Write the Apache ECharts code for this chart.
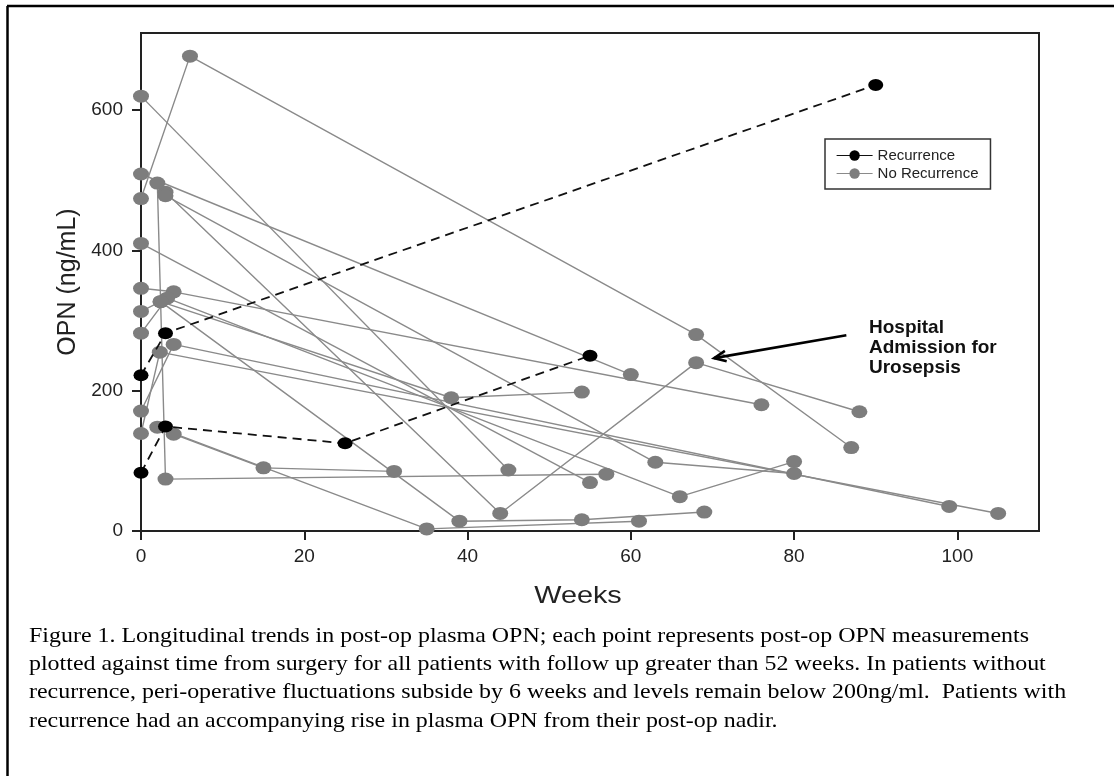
<!DOCTYPE html>
<html>
<head>
<meta charset="utf-8">
<script src="https://cdn.jsdelivr.net/npm/echarts@6/dist/echarts.min.js"></script>
<style>
html,body{margin:0;padding:0;background:#fff;}
#chart{width:1114px;height:776px;}
</style>
</head>
<body>
<div id="chart"></div>
<script>
// ---- data (weeks, OPN ng/mL) ----
const xTickValues = [0, 20, 40, 60, 80, 100];
const yTickValues = [0, 200, 400, 600];
const legendNames = ['Recurrence', 'No Recurrence'];

const recurrencePatientA = [[0, 222], [3, 282], [90, 636]];
const recurrencePatientB = [[0, 83], [3, 149], [25, 125], [55, 250]];

const noRec01 = [[0, 474], [6, 677], [68, 280], [87, 119]];
const noRec02 = [[0, 509], [60, 223]];
const noRec03 = [[0, 620], [45, 87]];
const noRec04 = [[3, 483], [44, 25], [68, 240], [88, 170]];
const noRec05 = [[3, 478], [63, 98], [80, 82]];
const noRec06 = [[0, 410], [55, 69]];
const noRec07 = [[0, 346], [4, 341], [76, 180]];
const noRec08 = [[0, 313], [2.4, 327], [38, 190], [54, 198]];
const noRec09 = [[0, 282], [3.2, 332], [66, 49], [80, 99]];
const noRec10 = [[0, 171], [4, 266], [99, 35]];
const noRec11 = [[0, 139], [2.3, 255], [105, 25]];
const noRec12 = [[2, 148], [35, 3], [61, 14]];
const noRec13 = [[4, 138], [15, 90], [31, 85]];
const noRec14 = [[2, 496], [3, 74], [57, 81]];
const noRec15 = [[2.4, 327], [39, 14], [54, 16], [69, 27]];

const noRecurrencePatients = [noRec01, noRec02, noRec03, noRec04, noRec05, noRec06, noRec07,
  noRec08, noRec09, noRec10, noRec11, noRec12, noRec13, noRec14, noRec15];
const recurrencePatients = [recurrencePatientA, recurrencePatientB];

const annotationLines = ['Hospital', 'Admission for', 'Urosepsis'];
const arrowFrom = [86.4, 279];
const arrowTo = [70.2, 246.5];
const xAxisTitle = 'Weeks';
const captionLines = [
  'Figure 1. Longitudinal trends in post-op plasma OPN; each point represents post-op OPN measurements',
  'plotted against time from surgery for all patients with follow up greater than 52 weeks. In patients without',
  'recurrence, peri-operative fluctuations subside by 6 weeks and levels remain below 200ng/ml.  Patients with',
  'recurrence had an accompanying rise in plasma OPN from their post-op nadir.'
];

// ---- chart ----
const chart = echarts.init(document.getElementById('chart'), null, {renderer: 'canvas'});
const GRAY = '#7d7d7d';
const series = [];
noRecurrencePatients.forEach(function (p) {
  series.push({
    name: legendNames[1], type: 'line', data: p, z: 2,
    symbol: 'circle', symbolSize: [16, 13], showSymbol: true,
    itemStyle: {color: GRAY},
    lineStyle: {color: '#8a8a8a', width: 1.4},
    emphasis: {disabled: true}, silent: true
  });
});
recurrencePatients.forEach(function (p) {
  series.push({
    name: legendNames[0], type: 'line', data: p, z: 5,
    symbol: 'circle', symbolSize: [15, 12],
    itemStyle: {color: '#000'},
    lineStyle: {color: '#111', width: 1.8, type: [9, 6]},
    emphasis: {disabled: true}, silent: true
  });
});

const axisFont = 'Liberation Sans, Arial, sans-serif';
chart.setOption({
  animation: false,
  backgroundColor: '#fff',
  grid: {left: 141, top: 33, right: 75, bottom: 245, show: true, borderColor: '#222', borderWidth: 2},
  xAxis: {
    type: 'value', min: 0, max: 110, interval: 20,
    axisLine: {show: true, lineStyle: {color: '#222', width: 2}},
    axisTick: {show: true, length: 9, lineStyle: {color: '#222', width: 2}},
    axisLabel: {fontFamily: axisFont, fontSize: 19, color: '#222', margin: 16, showMaxLabel: false,
      formatter: function (v) { return xTickValues.indexOf(v) >= 0 ? String(v) : ''; }},
    splitLine: {show: false}
  },
  yAxis: {
    type: 'value', min: 0, max: 710, interval: 200,
    name: 'OPN (ng/mL)', nameLocation: 'middle', nameGap: 51, nameRotate: 90,
    nameTextStyle: {fontFamily: axisFont, fontSize: 25, color: '#222'},
    axisLine: {show: true, lineStyle: {color: '#222', width: 2}},
    axisTick: {show: true, length: 9, lineStyle: {color: '#222', width: 2}},
    axisLabel: {fontFamily: axisFont, fontSize: 19, color: '#222', margin: 18, showMaxLabel: false,
      formatter: function (v) { return yTickValues.indexOf(v) >= 0 ? String(v) : ''; }},
    splitLine: {show: false}
  },
  legend: {
    data: legendNames, orient: 'vertical', left: 825, top: 139,
    borderColor: '#333', borderWidth: 1.5, padding: [9, 12, 8, 11],
    itemWidth: 36, itemHeight: 13, itemGap: 3,
    lineStyle: {type: 'solid', width: 1.2},
    textStyle: {fontFamily: axisFont, fontSize: 15, color: '#222'}
  },
  series: series
});

// annotation, arrow, caption, figure border
const p1 = chart.convertToPixel({gridIndex: 0}, arrowFrom);
const p2 = chart.convertToPixel({gridIndex: 0}, arrowTo);
const ang = Math.atan2(p1[1] - p2[1], p1[0] - p2[0]);
const hl = 13, ha = 0.42;
const h1 = [p2[0] + hl * Math.cos(ang + ha), p2[1] + hl * Math.sin(ang + ha)];
const h2 = [p2[0] + hl * Math.cos(ang - ha), p2[1] + hl * Math.sin(ang - ha)];

chart.setOption({
  graphic: [
    {type: 'line', shape: {x1: 7, y1: 6, x2: 1114, y2: 6}, style: {stroke: '#000', lineWidth: 2.5}},
    {type: 'line', shape: {x1: 7.5, y1: 6, x2: 7.5, y2: 776}, style: {stroke: '#000', lineWidth: 2.5}},
    {type: 'line', shape: {x1: p1[0], y1: p1[1], x2: p2[0], y2: p2[1]}, style: {stroke: '#000', lineWidth: 2.6}, z: 20},
    {type: 'polyline', shape: {points: [h1, p2, h2]}, style: {stroke: '#000', lineWidth: 2.6, fill: null}, z: 20},
    {type: 'text', left: 869, top: 318, z: 20, style: {
      text: annotationLines.join('\n'), font: 'bold 19px ' + axisFont, fill: '#111', lineHeight: 20}},
    {type: 'text', x: 578, y: 584, scaleX: 1.2, z: 20, style: {
      text: xAxisTitle, font: '24px ' + axisFont, fill: '#222', align: 'center', verticalAlign: 'top'}},
    {type: 'text', x: 29, y: 622, scaleX: 1.14, z: 20, style: {
      text: captionLines.join('\n'), font: '21px "Liberation Serif", "Times New Roman", serif', fill: '#000',
      lineHeight: 28.3, verticalAlign: 'top'}}
  ]
});
</script>
</body>
</html>
